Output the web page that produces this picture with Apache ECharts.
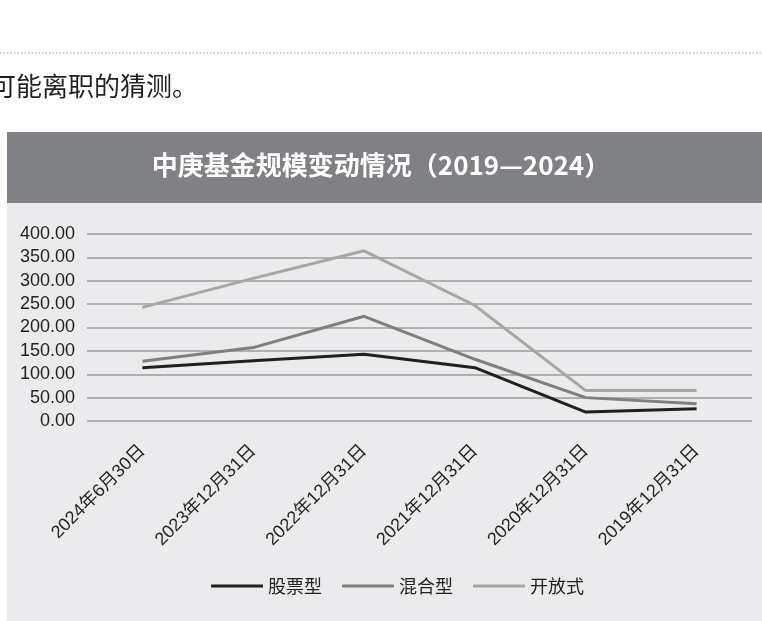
<!DOCTYPE html>
<html>
<head>
<meta charset="utf-8">
<script src="https://cdn.jsdelivr.net/npm/echarts@6/dist/echarts.min.js"></script>
<style>
  html, body { margin: 0; padding: 0; background: #fff; }
  #main { width: 762px; height: 621px; }
</style>
</head>
<body>
<div id="main"></div>
<script>
// 日期（横轴）
var categories = ['2024年6月30日', '2023年12月31日', '2022年12月31日', '2021年12月31日', '2020年12月31日', '2019年12月31日'];
// 各类基金规模
var stockFund = [114, 129, 143, 114, 19, 26];   // 股票型
var mixedFund = [128, 157, 224, 132, 50, 37];   // 混合型
var openFund = [243, 305, 364, 247, 65, 65];    // 开放式
var seriesNames = ['股票型', '混合型', '开放式'];

var cjk = '"Noto Sans CJK SC", sans-serif';
var latin = '"Liberation Sans", "Noto Sans CJK SC", sans-serif';

var myChart = echarts.init(document.getElementById('main'));

var option = {
  animation: false,
  backgroundColor: '#ffffff',
  title: {
    text: '中庚基金规模变动情况（2019—2024）',
    left: 'center',
    top: 147,
    textStyle: {
      color: '#ffffff',
      fontSize: 26,
      fontWeight: 'bold',
      fontFamily: cjk
    }
  },
  graphic: {
    elements: [
      { // 上方虚线
        type: 'line',
        z: -10,
        shape: { x1: 0, y1: 53, x2: 762, y2: 53 },
        style: { stroke: '#9a9a9a', lineWidth: 1, lineDash: [1.5, 2] }
      },
      { // 正文残句
        type: 'text',
        z: -10,
        left: -10,
        top: 73,
        style: { text: '可能离职的猜测。', fill: '#231f20', font: '26px "Noto Sans CJK SC"' }
      },
      { // 标题底色
        type: 'rect',
        z: -10,
        shape: { x: 7, y: 132, width: 755, height: 71 },
        style: { fill: '#808184' }
      },
      { // 图表底色
        type: 'rect',
        z: -10,
        shape: { x: 7, y: 203, width: 755, height: 418 },
        style: { fill: '#ebebed' }
      }
    ]
  },
  legend: {
    data: seriesNames,
    left: 206,
    top: 572,
    icon: 'rect',
    itemWidth: 52,
    itemHeight: 3,
    itemGap: 20,
    textStyle: { fontSize: 18, color: '#231f20', fontFamily: cjk }
  },
  grid: {
    left: 87,
    right: 10,
    top: 234,
    bottom: 200
  },
  xAxis: {
    type: 'category',
    data: categories,
    boundaryGap: true,
    axisLine: { show: false },
    axisTick: { show: false },
    axisLabel: {
      interval: 0,
      rotate: 45,
      margin: 27,
      fontSize: 18,
      color: '#231f20',
      fontFamily: latin
    }
  },
  yAxis: {
    type: 'value',
    min: 0,
    max: 400,
    interval: 50,
    axisLine: { show: false },
    axisTick: { show: false },
    axisLabel: {
      margin: 12,
      fontSize: 18,
      color: '#231f20',
      fontFamily: latin,
      formatter: function (v) { return v.toFixed(2); }
    },
    splitLine: { lineStyle: { color: '#9c9c9e', width: 1.5 } }
  },
  series: [
    {
      name: '股票型',
      type: 'line',
      data: stockFund,
      symbol: 'none',
      color: '#231f20',
      lineStyle: { width: 3, color: '#231f20' }
    },
    {
      name: '混合型',
      type: 'line',
      data: mixedFund,
      symbol: 'none',
      color: '#7f7f80',
      lineStyle: { width: 3, color: '#7f7f80' }
    },
    {
      name: '开放式',
      type: 'line',
      data: openFund,
      symbol: 'none',
      color: '#a7a7a8',
      lineStyle: { width: 3, color: '#a7a7a8' }
    }
  ]
};

option && myChart.setOption(option);
</script>
</body>
</html>
